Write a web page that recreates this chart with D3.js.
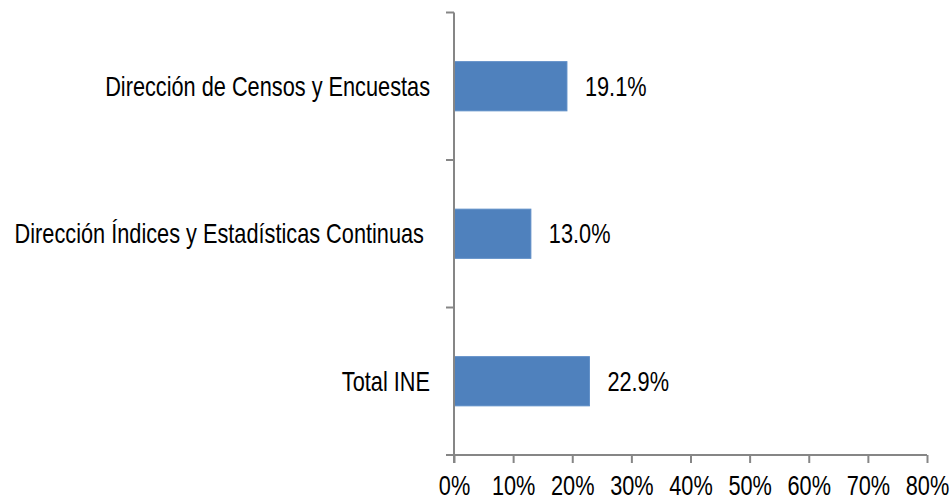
<!DOCTYPE html>
<html>
<head>
<meta charset="utf-8">
<script src="https://cdn.jsdelivr.net/npm/d3@7"></script>
<style>
  html, body { margin: 0; padding: 0; background: #fff; }
  svg text { font-family: "Liberation Sans Narrow", "Arial Narrow", "Liberation Sans", Arial, sans-serif; fill: #000; }
</style>
</head>
<body>
<svg id="chart" width="951" height="501"></svg>
<script>
const categories = ["Dirección de Censos y Encuestas", "Dirección Índices y Estadísticas Continuas ", "Total INE"];
const values = [19.1, 13.0, 22.9];
const tickValues = [0, 10, 20, 30, 40, 50, 60, 70, 80];
const tickLabels = ["0%", "10%", "20%", "30%", "40%", "50%", "60%", "70%", "80%"];

(function () {
const svg = d3.select("#chart");
const mLeft = 454, mRight = 927, mTop = 12.5, mBottom = 455;
const fontSize = 27;
const sx = 0.805;
const axisColor = "#868686";

const x = d3.scaleLinear().domain([0, 80]).range([mLeft, mRight]);
const y = d3.scaleBand().domain(categories).range([mTop, mBottom]).paddingInner(2 / 3).paddingOuter(1 / 3);
const step = y.step();

// bars
svg.selectAll("rect.bar").data(categories).join("rect")
  .attr("class", "bar")
  .attr("x", x(0))
  .attr("y", d => y(d))
  .attr("width", (d, i) => x(values[i]) - x(0))
  .attr("height", y.bandwidth())
  .attr("fill", "#4F81BD")
  .attr("stroke", "#5B8CC6")
  .attr("stroke-width", 1);

// x axis
const xAxis = d3.axisBottom(x).tickValues(tickValues)
  .tickFormat((d, i) => tickLabels[i]).tickSize(8).tickSizeOuter(0);
const gx = svg.append("g").attr("transform", `translate(0,${mBottom})`).call(xAxis);
gx.select(".domain").remove();
gx.selectAll(".tick line").attr("stroke", axisColor).attr("stroke-width", 2);
gx.selectAll(".tick text")
  .attr("font-size", fontSize)
  .attr("font-family", null)
  .attr("fill", "#000")
  .attr("dy", 0).attr("y", 40)
  .attr("transform", `scale(${sx},1)`);
gx.append("line").attr("x1", mLeft - 8).attr("x2", mRight).attr("y1", 0).attr("y2", 0)
  .attr("stroke", axisColor).attr("stroke-width", 2);

// y axis line with boundary ticks
const gy = svg.append("g");
gy.append("line").attr("x1", mLeft).attr("x2", mLeft).attr("y1", mTop).attr("y2", mBottom + 8)
  .attr("stroke", axisColor).attr("stroke-width", 2);
const boundaries = categories.map(c => y(c) - step / 3).concat([mBottom]);
gy.selectAll("line.tk").data(boundaries).join("line").attr("class", "tk")
  .attr("x1", mLeft - 8).attr("x2", mLeft).attr("y1", d => d).attr("y2", d => d)
  .attr("stroke", axisColor).attr("stroke-width", 2);

// category labels
svg.selectAll("text.cat").data(categories).join("text")
  .attr("class", "cat")
  .attr("transform", d => `translate(430,${y(d) + y.bandwidth() / 2}) scale(${sx},1)`)
  .attr("dy", "0.35em")
  .attr("text-anchor", "end")
  .style("white-space", "pre")
  .attr("font-size", fontSize)
  .text(d => d);

// value labels
svg.selectAll("text.val").data(categories).join("text")
  .attr("class", "val")
  .attr("transform", (d, i) => `translate(${x(values[i]) + 18},${y(d) + y.bandwidth() / 2}) scale(${sx},1)`)
  .attr("dy", "0.35em")
  .attr("font-size", fontSize)
  .text((d, i) => values[i].toFixed(1) + "%");
})();
</script>
</body>
</html>
